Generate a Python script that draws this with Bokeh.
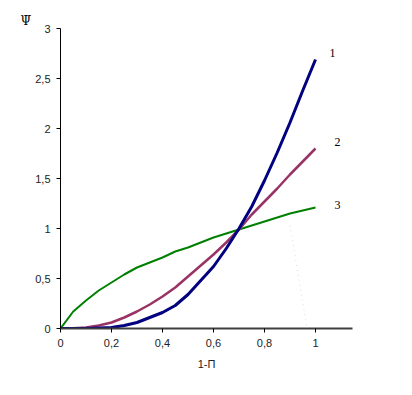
from bokeh.plotting import figure
from bokeh.models import Label, FixedTicker, CustomJSTickFormatter, Range1d, Title
from bokeh.embed import file_html
from bokeh.resources import INLINE

x = [0.0, 0.05, 0.1, 0.15, 0.2, 0.25, 0.3, 0.35, 0.4, 0.45, 0.5,
     0.55, 0.6, 0.65, 0.7, 0.75, 0.8, 0.85, 0.9, 0.95, 1.0]
psi1 = [0.0, 0.0, 0.0, 0.005, 0.01, 0.03, 0.06, 0.11, 0.16, 0.23, 0.34,
        0.48, 0.62, 0.80, 1.0, 1.22, 1.48, 1.76, 2.06, 2.38, 2.69]
psi2 = [0.0, 0.003, 0.01, 0.03, 0.06, 0.11, 0.17, 0.24, 0.32, 0.41, 0.52,
        0.63, 0.74, 0.86, 0.99, 1.14, 1.27, 1.40, 1.54, 1.67, 1.80]
psi3 = [0.0, 0.17, 0.28, 0.38, 0.46, 0.54, 0.61, 0.66, 0.71, 0.77, 0.81,
        0.86, 0.91, 0.95, 0.99, 1.03, 1.07, 1.11, 1.15, 1.18, 1.21]
curve_names = ["1", "2", "3"]
x_ticks = [0, 0.2, 0.4, 0.6, 0.8, 1.0]
y_ticks = [0, 0.5, 1.0, 1.5, 2.0, 2.5, 3.0]
faint_x = [0.90, 0.965]
faint_y = [1.03, 0.03]

p = figure(width=412, height=395, output_backend="svg", toolbar_location=None,
           x_range=Range1d(0, 1.145), y_range=Range1d(0, 3),
           min_border_left=60, min_border_right=60, min_border_top=28, min_border_bottom=67)
p.outline_line_color = None
p.xgrid.visible = False
p.ygrid.visible = False
p.background_fill_color = "white"
p.border_fill_color = "white"

p.title = Title(text="\u03a8\u0305", align="left", offset=-40,
                text_font="DejaVu Serif", text_font_size="12px",
                text_font_style="normal", text_color="black", standoff=2)

fmt = CustomJSTickFormatter(code="return String(tick).replace('.', ',');")
for ax, ticks in ((p.xaxis[0], x_ticks), (p.yaxis[0], y_ticks)):
    ax.ticker = FixedTicker(ticks=ticks)
    ax.formatter = fmt
    ax.minor_tick_line_color = None
    ax.major_tick_out = 4
    ax.major_tick_in = 0
    ax.axis_line_color = "black"
    ax.major_tick_line_color = "black"
    ax.major_label_text_font = "Liberation Sans"
    ax.major_label_text_font_size = "11px"
    ax.major_label_text_color = "#222222"
    ax.major_label_standoff = 6
p.xaxis.axis_line_color = "#404040"
p.xaxis.axis_line_width = 2
p.xaxis.axis_label = "1-\u041f"
p.xaxis.axis_label_text_font = "Liberation Sans"
p.xaxis.axis_label_text_font_size = "11px"
p.xaxis.axis_label_text_font_style = "normal"
p.xaxis.axis_label_text_color = "#222222"
p.xaxis.axis_label_standoff = 8

p.line(faint_x, faint_y, line_color="#dddddd", line_width=1, line_dash="1 4")
p.line(x, psi3, line_color="#008000", line_width=2)
p.line(x, psi2, line_color="#993366", line_width=2.5)
p.line(x, psi1, line_color="#000080", line_width=3)

label_pos = [(1.067, 2.76), (1.086, 1.87), (1.086, 1.24)]
for name, (lx, ly) in zip(curve_names, label_pos):
    p.add_layout(Label(x=lx, y=ly, text=name, text_font="Liberation Serif",
                       text_font_size="12px", text_align="center", text_baseline="middle",
                       text_color="black"))

open("out.html", "w").write(file_html(p, INLINE))
